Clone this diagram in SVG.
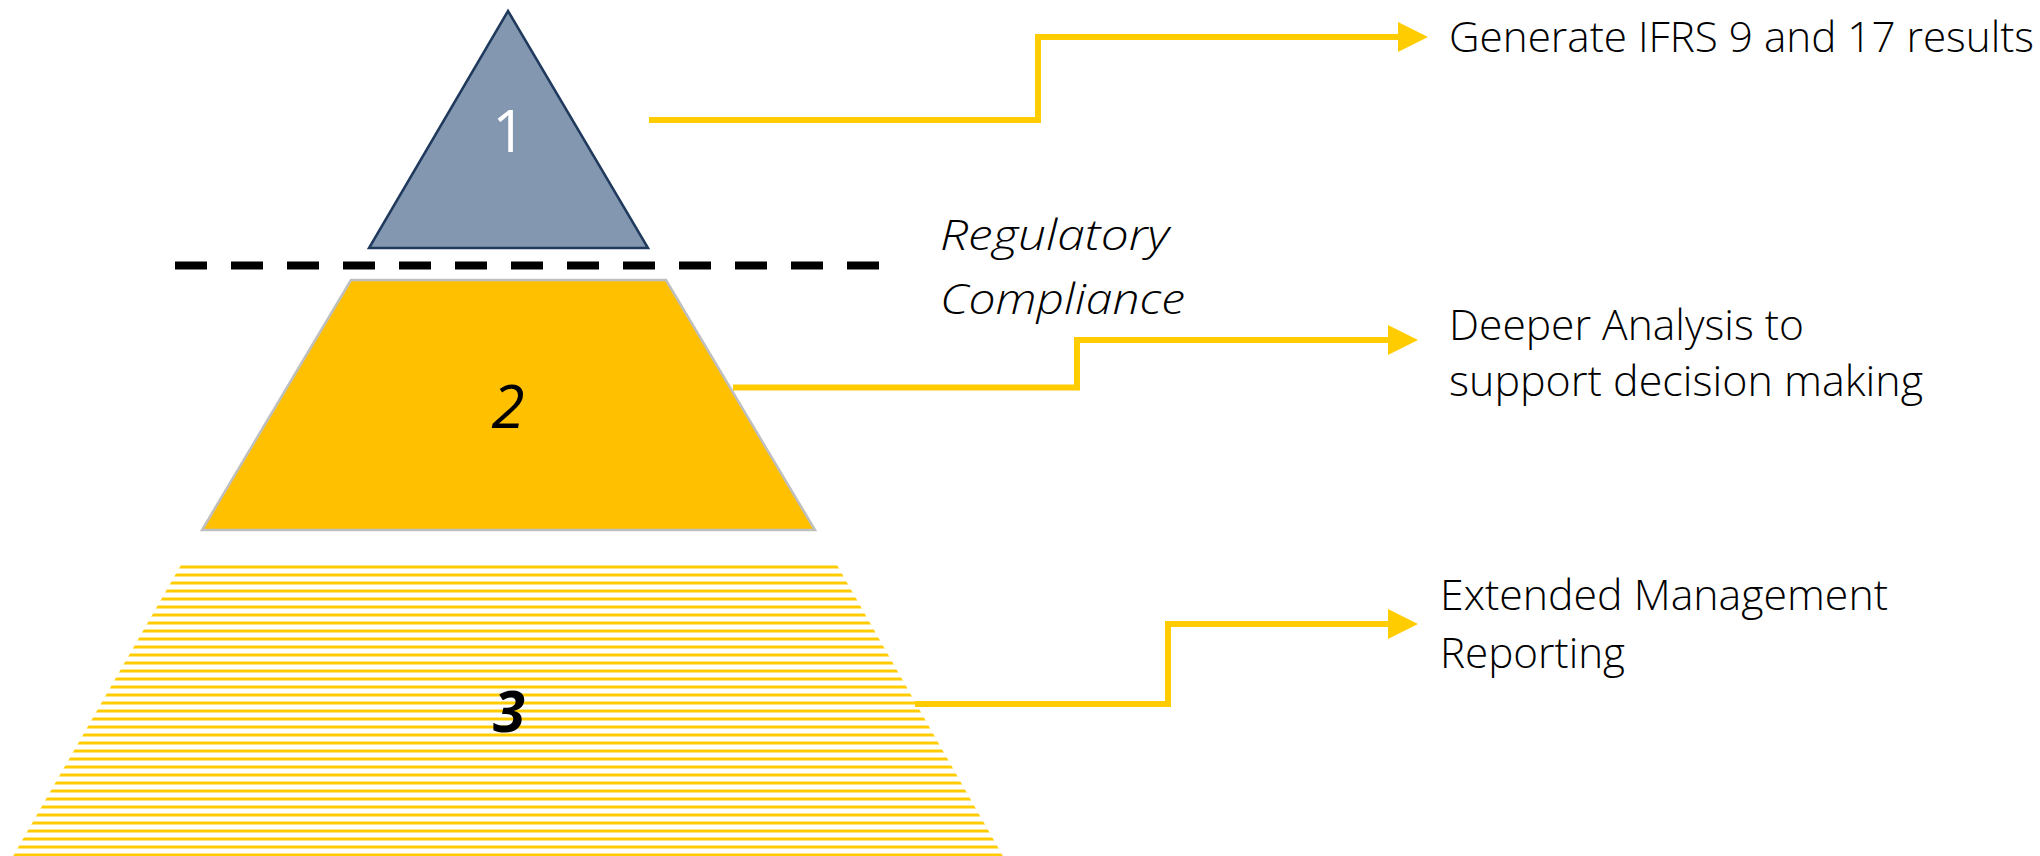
<svg xmlns="http://www.w3.org/2000/svg" width="2040" height="856" viewBox="0 0 2040 856">
<style>
.lbl{font-family:"Open Sans","Liberation Sans",sans-serif;font-weight:300;font-size:42px;fill:#000}
.num{font-family:"Open Sans","Liberation Sans",sans-serif;text-anchor:middle}
.conn{fill:none;stroke:#FFCC00;stroke-width:6;stroke-linejoin:miter;marker-end:url(#arrow)}
</style>
<defs>
<marker id="arrow" markerUnits="userSpaceOnUse" markerWidth="30" markerHeight="30" viewBox="0 0 30 30" refX="2" refY="15" orient="auto">
<path d="M0,0 L30,15 L0,30 Z" fill="#FFCC00"/>
</marker>
<pattern id="stripes" patternUnits="userSpaceOnUse" x="0" y="565.5" width="2040" height="8">
<rect x="0" y="0" width="2040" height="3" fill="#FFCC00"/>
</pattern>
</defs>
<rect width="2040" height="856" fill="#FFFFFF"/>
<g id="divider">
<line x1="175" y1="265.5" x2="880" y2="265.5" stroke="#000" stroke-width="8" stroke-dasharray="32 24"/>
</g>
<g id="level1">
<polygon points="508,11 648,248 369,248" fill="#8497B0" stroke="#1F3A5C" stroke-width="2.5" stroke-linejoin="miter"/>
<text class="num" x="509" y="152" font-size="58" font-weight="400" fill="#FFFFFF">1</text>
</g>
<g id="level2">
<polygon points="351,280 666,280 815,530 202,530" fill="#FFC000" stroke="#BFBFBF" stroke-width="2.5"/>
<text class="num" x="508" y="428" font-size="60" font-style="italic" fill="#000">2</text>
</g>
<g id="level3">
<polygon points="181,565 837,565 1004,858 12,858" fill="url(#stripes)"/>
<text class="num" x="509" y="732" font-size="58" font-style="italic" font-weight="bold" fill="#000">3</text>
</g>
<g id="connectors">
<polyline class="conn" points="649,120 1038,120 1038,37 1400,37"/>
<polyline class="conn" points="733,387.5 1077,387.5 1077,340 1390,340"/>
<polyline class="conn" points="915,704 1168,704 1168,624 1390,624"/>
</g>
<g id="label-regulatory">
<text class="lbl" font-style="italic" font-size="44" x="940" y="250" textLength="229" lengthAdjust="spacingAndGlyphs">Regulatory</text>
<text class="lbl" font-style="italic" font-size="44" x="940" y="314" textLength="245" lengthAdjust="spacingAndGlyphs">Compliance</text>
</g>
<g id="label-1">
<text class="lbl" x="1449" y="52" textLength="585" lengthAdjust="spacingAndGlyphs">Generate IFRS 9 and 17 results</text>
</g>
<g id="label-2">
<text class="lbl" x="1449" y="340" textLength="355" lengthAdjust="spacingAndGlyphs">Deeper Analysis to</text>
<text class="lbl" x="1449" y="396" textLength="474" lengthAdjust="spacingAndGlyphs">support decision making</text>
</g>
<g id="label-3">
<text class="lbl" x="1440" y="610" textLength="448" lengthAdjust="spacingAndGlyphs">Extended Management</text>
<text class="lbl" x="1440" y="668" textLength="185" lengthAdjust="spacingAndGlyphs">Reporting</text>
</g>
</svg>
